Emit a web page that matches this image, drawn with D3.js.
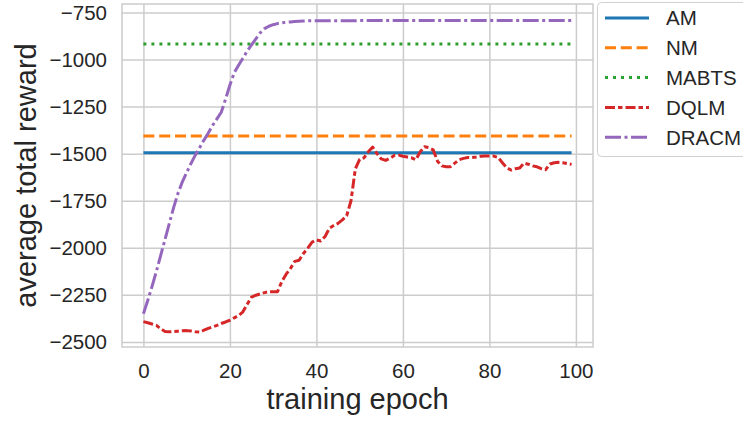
<!DOCTYPE html>
<html>
<head>
<meta charset="utf-8">
<script src="https://cdn.jsdelivr.net/npm/d3@7"></script>
<style>
  body { margin: 0; background: #fff; }
  svg text { font-family: "Liberation Sans", Arial, sans-serif; fill: #262626; }
</style>
</head>
<body>
<div id="chart"></div>
<script>
const width = 743
const height = 421

// data
const epochs = d3.range(100)
const amReward = -1495
const nmReward = -1406
const mabtsReward = -917
const dqlm = [
  -2392, -2398, -2405, -2412, -2430, -2445, -2446, -2445, -2443, -2441,
  -2440, -2442, -2446, -2448, -2438, -2428, -2420, -2412, -2402, -2394,
  -2385, -2372, -2360, -2340, -2300, -2262, -2252, -2245, -2238, -2233,
  -2233, -2233, -2180, -2140, -2110, -2072, -2066, -2030, -2002, -1970,
  -1958, -1964, -1940, -1896, -1882, -1870, -1852, -1830, -1750, -1580,
  -1530, -1522, -1490, -1465, -1500, -1528, -1536, -1525, -1510, -1508,
  -1514, -1518, -1522, -1532, -1490, -1463, -1468, -1480, -1540, -1565,
  -1570, -1569, -1550, -1532, -1525, -1520, -1521, -1518, -1514, -1512,
  -1512, -1513, -1520, -1548, -1575, -1587, -1580, -1576, -1550, -1556,
  -1565, -1570, -1580, -1585, -1555, -1548, -1546, -1548, -1553, -1557
]
const dracm = [
  -2350, -2280, -2205, -2125, -2040, -1955, -1870, -1785, -1710, -1650,
  -1600, -1552, -1508, -1468, -1428, -1390, -1350, -1315, -1280, -1210,
  -1135, -1070, -1030, -993, -955, -922, -890, -858, -836, -823,
  -815, -809, -805, -802, -800, -798, -796, -795, -794, -794,
  -794, -794, -794, -794, -794, -794, -794, -794, -794, -794,
  -793, -793, -793, -793, -793, -793, -793, -793, -793, -793,
  -793, -793, -793, -793, -793, -793, -793, -793, -793, -793,
  -793, -793, -793, -793, -793, -793, -793, -793, -793, -793,
  -793, -793, -793, -793, -793, -793, -793, -793, -793, -793,
  -793, -793, -793, -793, -793, -793, -793, -793, -793, -793
]
const seriesNames = ["AM", "NM", "MABTS", "DQLM", "DRACM"]
const seriesColors = ["#1f77b4", "#ff7f0e", "#2ca02c", "#d62728", "#9467bd"]
const seriesDash = [null, "11,4.8", "3,5", "10,3,4.5,3", "16,3.5,3,3.5"]
const xTicks = [0, 20, 40, 60, 80, 100]
const yTicks = [-750, -1000, -1250, -1500, -1750, -2000, -2250, -2500]

const plotLeft = 122, plotRight = 593, plotTop = 4, plotBottom = 347

const svg = d3.select("#chart").append("svg")
    .attr("width", width)
    .attr("height", height)

const x = d3.scaleLinear().domain([-4.95, 103.95]).range([plotLeft, plotRight])
const y = d3.scaleLinear().domain([-2527, -705]).range([plotBottom, plotTop])

// grid + tick labels
const xAxis = svg.append("g")
    .attr("transform", `translate(0,${plotBottom})`)
    .call(d3.axisBottom(x).tickValues(xTicks).tickSize(-(plotBottom - plotTop)).tickPadding(16).tickFormat(d3.format("d")))
const yAxis = svg.append("g")
    .attr("transform", `translate(${plotLeft},0)`)
    .call(d3.axisLeft(y).tickValues(yTicks).tickSize(-(plotRight - plotLeft)).tickPadding(15).tickFormat(d3.format("d")))

for (const ax of [xAxis, yAxis]) {
    ax.select(".domain").remove()
    ax.selectAll(".tick line").attr("stroke", "#cccccc").attr("stroke-width", 1.5)
    ax.selectAll(".tick text")
        .style("font-size", "20.5px")
        .style("font-family", "'Liberation Sans', Arial, sans-serif")
        .attr("fill", "#262626")
}

svg.append("rect")
    .attr("x", plotLeft).attr("y", plotTop)
    .attr("width", plotRight - plotLeft).attr("height", plotBottom - plotTop)
    .attr("fill", "none")
    .attr("stroke", "#cccccc")
    .attr("stroke-width", 1.5)

// lines
const line = d3.line()
    .x((d, i) => x(epochs[i]))
    .y(d => y(d))

const seriesValues = [
    epochs.map(() => amReward),
    epochs.map(() => nmReward),
    epochs.map(() => mabtsReward),
    dqlm,
    dracm
]

const lines = svg.append("g").attr("id", "lines")
seriesValues.forEach((vals, i) => {
    lines.append("path")
        .attr("d", line(vals))
        .attr("fill", "none")
        .attr("stroke", seriesColors[i])
        .attr("stroke-width", 3)
        .attr("stroke-dasharray", seriesDash[i])
        .attr("stroke-linejoin", "round")
})

// axis labels
svg.append("text")
    .attr("x", (plotLeft + plotRight) / 2)
    .attr("y", 409)
    .attr("text-anchor", "middle")
    .style("font-size", "29px")
    .text("training epoch")

svg.append("text")
    .attr("transform", `translate(36,${(plotTop + plotBottom) / 2}) rotate(-90)`)
    .attr("text-anchor", "middle")
    .style("font-size", "29px")
    .text("average total reward")

// legend
const legend = svg.append("g").attr("id", "legend")
legend.append("rect")
    .attr("x", 597.5).attr("y", 2.5)
    .attr("width", 170).attr("height", 154)
    .attr("rx", 4)
    .attr("fill", "#fff")
    .attr("fill-opacity", 0.8)
    .attr("stroke", "#d0d0d0")
    .attr("stroke-width", 1)

seriesNames.forEach((name, i) => {
    const yy = 18 + i * 29.8
    legend.append("line")
        .attr("x1", 605).attr("x2", 649)
        .attr("y1", yy).attr("y2", yy)
        .attr("stroke", seriesColors[i])
        .attr("stroke-width", 3)
        .attr("stroke-dasharray", seriesDash[i])
    legend.append("text")
        .attr("x", 666)
        .attr("y", yy)
        .attr("dy", "0.36em")
        .style("font-size", "20.5px")
        .text(name)
})
</script>
</body>
</html>
